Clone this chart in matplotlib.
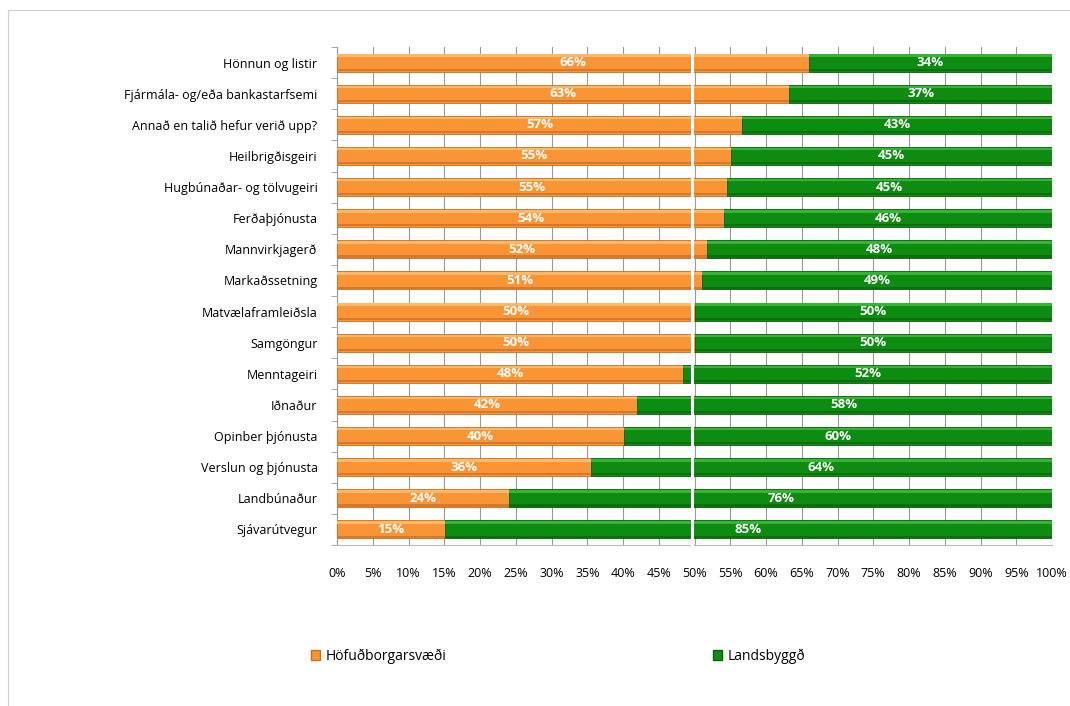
import matplotlib
matplotlib.use("Agg")
import matplotlib.pyplot as plt
import numpy as np

# 数据
categories = ["Hönnun og listir", "Fjármála- og/eða bankastarfsemi",
              "Annað en talið hefur verið upp?", "Heilbrigðisgeiri",
              "Hugbúnaðar- og tölvugeiri", "Ferðaþjónusta", "Mannvirkjagerð",
              "Markaðssetning", "Matvælaframleiðsla", "Samgöngur",
              "Menntageiri", "Iðnaður", "Opinber þjónusta",
              "Verslun og þjónusta", "Landbúnaður", "Sjávarútvegur"]
hofud = [0.66, 0.632, 0.566, 0.551, 0.546, 0.541, 0.517, 0.511,
         0.50, 0.50, 0.484, 0.419, 0.402, 0.355, 0.241, 0.151]
lands = [1 - v for v in hofud]
series_names = ["Höfuðborgarsvæði", "Landsbyggð"]
xticks = np.arange(0, 1.0001, 0.05)

plt.rcParams["font.family"] = ["Open Sans", "DejaVu Sans"]

fig = plt.figure(figsize=(10.7, 7.06), dpi=100)
ax = fig.add_axes([337 / 1070, 1 - 545 / 706, 715 / 1070, 498 / 706])

y = np.arange(len(categories))
orange = "#F99535"
green = "#0E8C12"
h = 0.58
ax.barh(y, hofud, height=h, color=orange, edgecolor="#C8701F", linewidth=0.6, zorder=3)
ax.barh(y, lands, left=hofud, height=h, color=green, edgecolor="#076009", linewidth=0.6, zorder=3)

# 渐变效果：上亮下暗
ax.barh(y - 0.22, hofud, height=0.08, color="#FFB868", linewidth=0, zorder=4)
ax.barh(y - 0.22, lands, left=hofud, height=0.08, color="#34B534", linewidth=0, zorder=4)
ax.barh(y + 0.23, hofud, height=0.07, color="#D9782A", linewidth=0, zorder=4)
ax.barh(y + 0.23, lands, left=hofud, height=0.07, color="#0A700C", linewidth=0, zorder=4)

for i in range(len(categories)):
    ax.text(hofud[i] / 2, y[i], f"{hofud[i]*100:.0f}%", ha="center", va="center",
            color="white", fontweight="bold", fontsize=9.5, zorder=6)
    ax.text(hofud[i] + lands[i] / 2, y[i], f"{lands[i]*100:.0f}%", ha="center", va="center",
            color="white", fontweight="bold", fontsize=9.5, zorder=6)

ax.plot([0.497, 0.497], [-0.8, len(categories) - 0.2], color="white", linewidth=2.2,
        zorder=5, clip_on=False)

ax.set_xlim(0, 1)
ax.set_ylim(len(categories) - 0.5, -0.5)
ax.set_yticks(y)
ax.set_yticklabels(categories, fontsize=9)
ax.set_yticks(np.arange(-0.5, len(categories), 1), minor=True)
ax.tick_params(axis="y", which="major", length=0, pad=14)
ax.tick_params(axis="y", which="minor", length=4, color="#999999")
ax.set_xticks(xticks)
ax.set_xticklabels([f"{v*100:.0f}%" for v in xticks], fontsize=9)
ax.tick_params(axis="x", length=0, pad=16)
ax.grid(axis="x", color="#9a9a9a", linewidth=0.8, zorder=0)
for s in ["top", "right"]:
    ax.spines[s].set_visible(False)
ax.spines["left"].set_color("#999999")
ax.spines["bottom"].set_color("#bbbbbb")

# 图例
handles = [plt.Rectangle((0, 0), 1, 1, facecolor=orange, edgecolor="#C8701F"),
           plt.Rectangle((0, 0), 1, 1, facecolor=green, edgecolor="#076009")]
fig.legend(handles[:1], series_names[:1], loc="center left", bbox_to_anchor=(298 / 1070, 1 - 656 / 706),
           frameon=False, fontsize=10, handlelength=0.7, handleheight=0.7, handletextpad=0.4)
fig.legend(handles[1:], series_names[1:], loc="center left", bbox_to_anchor=(700 / 1070, 1 - 656 / 706),
           frameon=False, fontsize=10, handlelength=0.7, handleheight=0.7, handletextpad=0.4)

# 外框
fig.add_artist(plt.Line2D([8 / 1070, 8 / 1070], [0, 1 - 10 / 706], transform=fig.transFigure, color="#d0d0d0", linewidth=0.8))
fig.add_artist(plt.Line2D([8 / 1070, 1], [1 - 10 / 706, 1 - 10 / 706], transform=fig.transFigure, color="#d0d0d0", linewidth=0.8))

fig.savefig("out.png", dpi=100)
